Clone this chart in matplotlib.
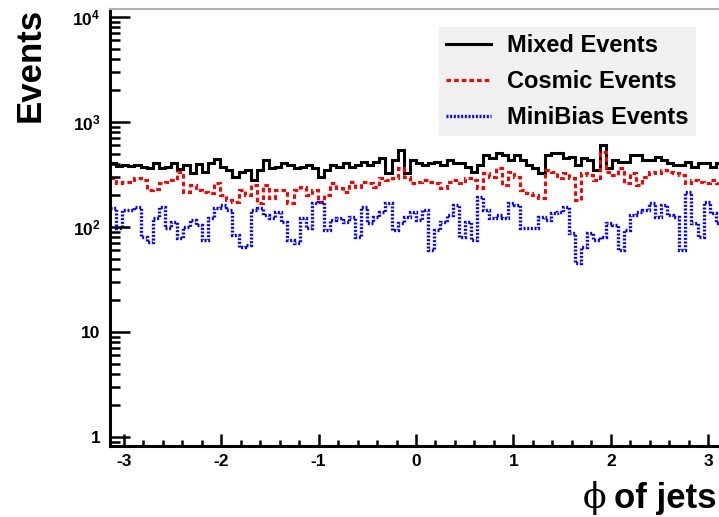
import numpy as np
import matplotlib
matplotlib.use("Agg")
import matplotlib.pyplot as plt
from matplotlib.ticker import LogLocator, FuncFormatter, MultipleLocator

plt.rcParams['font.family'] = ['Liberation Sans', 'DejaVu Sans']
plt.rcParams['font.weight'] = 'bold'
plt.rcParams['axes.unicode_minus'] = False
plt.rcParams['mathtext.fontset'] = 'custom'
plt.rcParams['mathtext.rm'] = 'Liberation Sans:bold'
plt.rcParams['mathtext.bf'] = 'Liberation Sans:bold'
plt.rcParams['mathtext.default'] = 'rm'

# 100 bins of phi in [-pi, pi]
n_bins = 100

mixed = [409, 381, 389, 381, 389, 375, 362, 404, 362, 375,
         404, 354, 389, 324, 400, 336, 404, 445, 375, 349,
         302, 336, 349, 280, 349, 430, 362, 375, 404, 389,
         362, 375, 389, 362, 302, 349, 389, 375, 404, 375,
         389, 419, 389, 419, 451, 324, 435, 541, 324, 435,
         404, 389, 404, 419, 389, 435, 404, 404, 375, 336,
         389, 485, 451, 503, 485, 435, 485, 435, 389, 362,
         324, 485, 503, 503, 451, 468, 389, 451, 435, 349,
         604, 362, 435, 419, 419, 485, 485, 435, 435, 468,
         435, 404, 389, 389, 419, 375, 404, 404, 375, 404]

cosmic = [291, 261, 270, 270, 291, 280, 225, 228, 261, 270,
          280, 337, 217, 251, 225, 217, 209, 261, 202, 181,
          174, 225, 202, 251, 168, 251, 188, 225, 225, 168,
          225, 242, 202, 225, 174, 202, 261, 233, 217, 270,
          242, 270, 261, 242, 291, 280, 291, 362, 302, 261,
          270, 280, 270, 261, 233, 270, 280, 261, 291, 280,
          233, 324, 302, 362, 251, 337, 302, 225, 209, 202,
          188, 349, 337, 291, 324, 291, 181, 324, 313, 280,
          522, 337, 313, 362, 261, 324, 251, 302, 337, 324,
          349, 337, 324, 313, 261, 280, 270, 261, 280, 261]

minibias = [151, 97, 145, 145, 156, 81, 72, 121, 156, 97,
            112, 78, 101, 117, 105, 75, 121, 151, 162, 145,
            84, 65, 67, 145, 151, 130, 121, 140, 112, 75,
            70, 121, 97, 168, 174, 94, 117, 121, 112, 125,
            81, 156, 108, 125, 140, 168, 94, 108, 125, 140,
            117, 145, 60, 94, 112, 130, 162, 81, 112, 75,
            194, 145, 121, 130, 121, 168, 162, 97, 97, 97,
            125, 117, 135, 140, 156, 87, 45, 65, 87, 75,
            81, 108, 105, 60, 94, 130, 140, 145, 168, 125,
            162, 130, 125, 60, 217, 108, 81, 174, 135, 108]

labels = ["Mixed Events", "Cosmic Events", "MiniBias Events"]

edges = np.linspace(-np.pi, np.pi, n_bins + 1)

fig = plt.figure(figsize=(7.19, 5.17), dpi=100)
ax = fig.add_axes([110 / 719, 71 / 517, 612 / 719, 437 / 517])

ax.stairs(mixed, edges, baseline=None, color='black', lw=2.2,
          label=labels[0])
ax.stairs(cosmic, edges, baseline=None, color='#ff0000', lw=2.2,
          linestyle=(0, (1.5, 1.0)), label=labels[1])
ax.stairs(minibias, edges, baseline=None, color='#0000ff', lw=2.4,
          linestyle=(0, (0.6, 0.5)), label=labels[2])

ax.set_yscale('log')
ax.set_xlim(-np.pi, np.pi)
ax.set_ylim(0.821, 11900)

def ylab(v, pos):
    if v == 1:
        return '1'
    if v == 10:
        return '10'
    return r'$10^{%d}$' % int(round(np.log10(v)))

ax.yaxis.set_major_locator(LogLocator(base=10, numticks=10))
ax.yaxis.set_minor_locator(LogLocator(base=10, subs=np.arange(2, 10), numticks=20))
ax.yaxis.set_major_formatter(FuncFormatter(ylab))
ax.xaxis.set_major_locator(MultipleLocator(1))
ax.xaxis.set_minor_locator(MultipleLocator(0.2))

ax.tick_params(axis='y', which='major', direction='in', length=14.4, width=1.8,
               labelsize=12.5, pad=7)
ax.tick_params(axis='y', which='minor', direction='in', length=7.2, width=1.8)
ax.tick_params(axis='x', which='major', direction='in', length=8.6, width=1.8,
               labelsize=12.5, pad=6)
ax.tick_params(axis='x', which='minor', direction='in', length=4.3, width=1.8)

for side in ['left', 'bottom']:
    ax.spines[side].set_linewidth(2.2)
ax.spines['top'].set_color('#b0b0b0')
ax.spines['top'].set_linewidth(1.5)
ax.spines['right'].set_visible(False)

leg = ax.legend(loc='upper left', bbox_to_anchor=(439 / 719, 1 - 27 / 517),
                bbox_transform=fig.transFigure, borderaxespad=0, fontsize=17,
                frameon=True, fancybox=False, facecolor='#f0f0f0',
                edgecolor='none', framealpha=1, handlelength=1.9,
                handletextpad=0.7, labelspacing=0.55, borderpad=0.3)

fig.text(30 / 719, 1 - 8 / 517, 'Events', rotation=90, ha='center', va='top',
         fontsize=25, fontweight='bold')
t = fig.text(717 / 719, 9 / 517, 'of jets', ha='right', va='baseline',
             fontsize=25, fontweight='bold')
ax.annotate('\u03d5', xy=(0, 0), xycoords=t, xytext=(-6, 0),
            textcoords='offset points', ha='right', va='bottom',
            fontsize=25, fontweight='normal', family=['DejaVu Serif'],
            annotation_clip=False)

fig.savefig('out.png', dpi=100)
